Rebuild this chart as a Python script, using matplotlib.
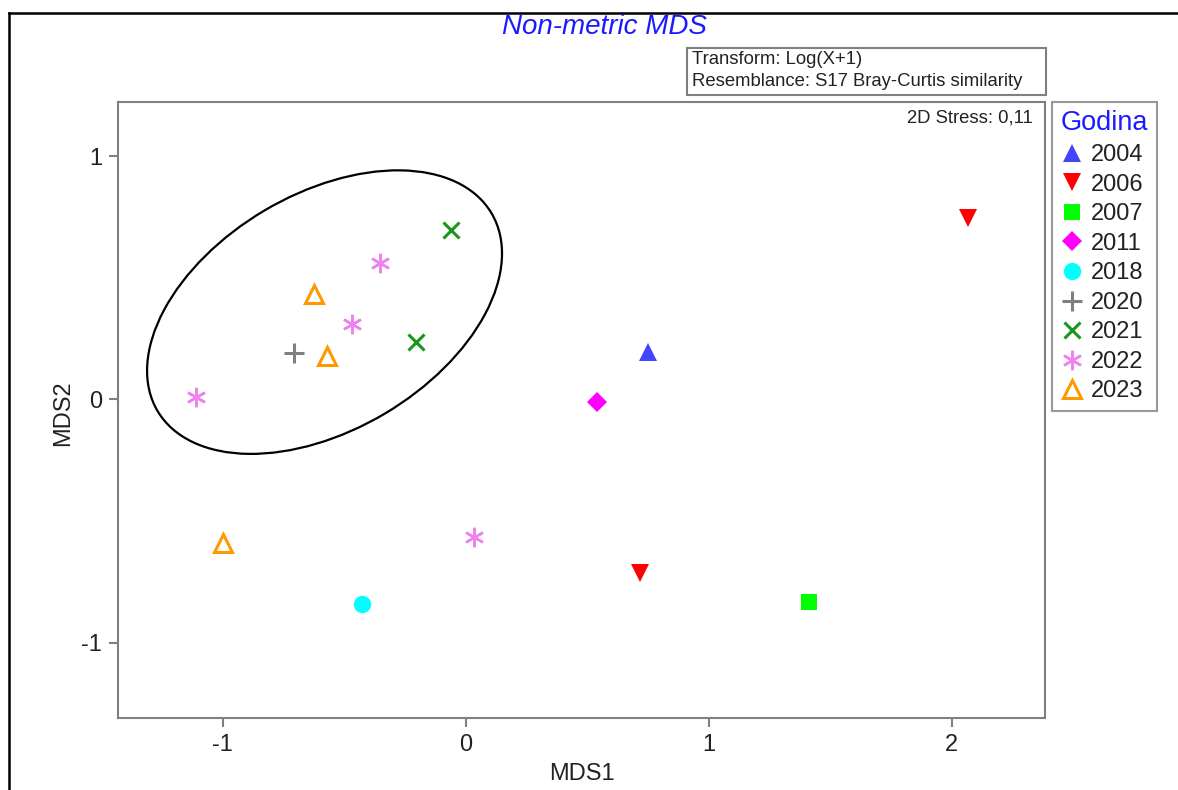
import matplotlib.pyplot as plt
from matplotlib.patches import Ellipse, Rectangle
from matplotlib.lines import Line2D

plt.rcParams['font.family'] = ['Liberation Sans', 'DejaVu Sans']
plt.rcParams['axes.unicode_minus'] = False

# legend order
years = ['2004', '2006', '2007', '2011', '2018', '2020', '2021', '2022', '2023']

# one entry per sample
sample_year = ['2004', '2006', '2006', '2007', '2011', '2018', '2020', '2021', '2021',
               '2022', '2022', '2022', '2022', '2023', '2023', '2023']
mds1 = [0.750, 2.069, 0.717, 1.411, 0.540, -0.427, -0.707, -0.060, -0.205,
        -0.353, -0.467, -1.110, 0.034, -0.623, -0.570, -0.999]
mds2 = [0.196, 0.748, -0.713, -0.834, -0.009, -0.841, 0.192, 0.698, 0.235,
        0.561, 0.312, 0.010, -0.565, 0.434, 0.177, -0.590]

# cluster ellipse
ell_center = (-0.581, 0.359)
ell_width = 1.597
ell_height = 0.971
ell_angle = 30.6

x_ticks = [-1, 0, 1, 2]
y_ticks = [-1, 0, 1]

styles = {
  '2004': dict(marker='^', color='#4444ff', ms=13.5, mew=0),
  '2006': dict(marker='v', color='#ff0000', ms=13.5, mew=0),
  '2007': dict(marker='s', color='#00ff00', ms=12, mew=0),
  '2011': dict(marker='D', color='#ff00ff', ms=10.5, mew=0),
  '2018': dict(marker='o', color='#00ffff', ms=12.5, mew=0),
  '2020': dict(marker='+', color='#808080', ms=15, mew=2.2),
  '2021': dict(marker='x', color='#1a961a', ms=11.5, mew=2.2),
  '2022': dict(marker=(6, 2, 0), color='#ee82ee', ms=14, mew=1.8),
  '2023': dict(marker='^', color='#ff9900', ms=12.5, mew=2.2, mfc='none'),
}

W, H = 1178, 790
fig = plt.figure(figsize=(W / 100, H / 100), dpi=100)
ax = fig.add_axes([118 / W, 1 - 718 / H, (1045 - 118) / W, (718 - 102) / H])

for yr in years:
  xs = [x for x, s in zip(mds1, sample_year) if s == yr]
  ys = [y for y, s in zip(mds2, sample_year) if s == yr]
  ax.plot(xs, ys, linestyle='none', **styles[yr])

ax.add_patch(Ellipse(ell_center, ell_width, ell_height, angle=ell_angle,
                     fill=False, edgecolor='black', lw=1.6))

ax.set_xlim(-1.431, 2.384)
ax.set_ylim(-1.31, 1.223)
ax.set_xticks(x_ticks)
ax.set_yticks(y_ticks)
for sp in ax.spines.values():
  sp.set_color('#808080')
  sp.set_linewidth(1.5)
ax.tick_params(colors='#808080', labelcolor='#222222', length=6.5, width=1.5,
               labelsize=17, pad=5)

ax.set_xlabel('MDS1', fontsize=17, color='#222222')
ax.set_ylabel('MDS2', fontsize=17, color='#222222')
ax.xaxis.set_label_coords(0.5, (718 - 763) / 616)
ax.yaxis.set_label_coords((74 - 118) / 927, 0.495)

ax.text((1033 - 118) / 927, (718 - 118) / 616, '2D Stress: 0,11', fontsize=13.3,
        color='#222222', ha='right', va='center', transform=ax.transAxes)

# title and info box
fig.text(604 / W, 1 - 27 / H, 'Non-metric MDS', color='#1a1aff', style='italic',
         fontsize=20, ha='center', va='center')
fig.add_artist(Rectangle((687 / W, 1 - 95 / H), (1046 - 687) / W, 47 / H,
                         transform=fig.transFigure, fill=False,
                         edgecolor='#808080', lw=1.5))
fig.text(692 / W, 1 - 60 / H, 'Transform: Log(X+1)', fontsize=13.3,
         color='#222222', va='center')
fig.text(692 / W, 1 - 81 / H, 'Resemblance: S17 Bray-Curtis similarity',
         fontsize=13.3, color='#222222', va='center')

# outer frame (left and top edge only)
fig.add_artist(Line2D([9 / W, 9 / W], [0, 1 - 13 / H], transform=fig.transFigure,
                      color='black', lw=1.8))
fig.add_artist(Line2D([9 / W, 1], [1 - 13 / H, 1 - 13 / H], transform=fig.transFigure,
                      color='black', lw=1.8))

handles = [Line2D([], [], linestyle='none', **styles[yr]) for yr in years]
leg = fig.legend(handles, years, title='Godina', loc='upper left',
                 bbox_to_anchor=(1052 / W, 1 - 102 / H), borderaxespad=0,
                 fontsize=17, title_fontsize=19.5, frameon=True, fancybox=False,
                 edgecolor='#808080', borderpad=0.36, labelspacing=0.32,
                 handlelength=0.62, handletextpad=0.48)
leg.get_frame().set_linewidth(1.5)
leg.get_title().set_color('#1a1aff')
for t in leg.get_texts():
  t.set_color('#222222')

fig.savefig('out.png', dpi=100, facecolor='white')
